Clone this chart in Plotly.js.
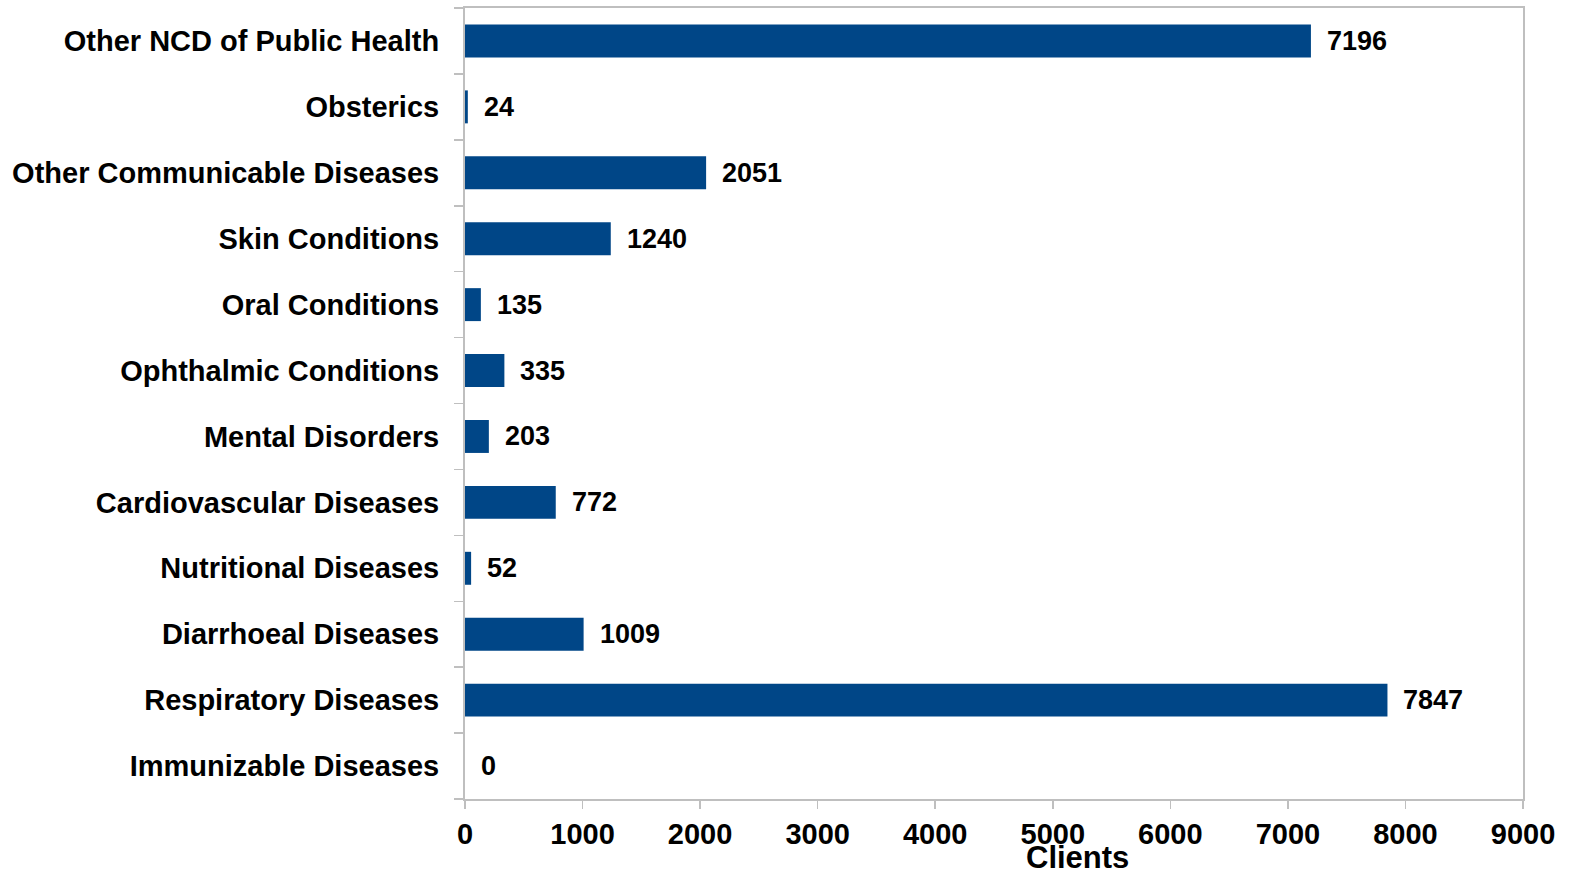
<!DOCTYPE html>
<html>
<head>
<meta charset="utf-8">
<script src="https://cdn.plot.ly/plotly-3.0.1.min.js"></script>
<style>html,body{margin:0;padding:0;background:#fff;}#chart{width:1569px;height:876px;}</style>
</head>
<body>
<div id="chart"></div>
<script>
// Categories listed bottom to top
const categories = [
  "Immunizable Diseases",
  "Respiratory Diseases",
  "Diarrhoeal Diseases",
  "Nutritional Diseases",
  "Cardiovascular Diseases",
  "Mental Disorders",
  "Ophthalmic Conditions",
  "Oral Conditions",
  "Skin Conditions",
  "Other Communicable Diseases",
  "Obsterics",
  "Other NCD of Public Health"
];
const clients = [0, 7847, 1009, 52, 772, 203, 335, 135, 1240, 2051, 24, 7196];
const xTicks = [0, 1000, 2000, 3000, 4000, 5000, 6000, 7000, 8000, 9000];

const fontFam = "Liberation Sans, Arial, sans-serif";
const gray = "#bfbfbf";

const trace = {
  type: "bar",
  orientation: "h",
  y: categories,
  x: clients,
  width: 0.5,
  marker: {color: "#004687"},
  hoverinfo: "x+y"
};

const annotations = categories.map((c, i) => ({
  x: clients[i], y: c, xref: "x", yref: "y",
  text: String(clients[i]),
  showarrow: false, xanchor: "left", yanchor: "middle",
  xshift: 14,
  font: {family: fontFam, size: 27, weight: "bold", color: "#000"}
}));

const layout = {
  width: 1569, height: 876,
  margin: {l: 465, r: 46, t: 8, b: 77},
  paper_bgcolor: "#fff", plot_bgcolor: "#fff",
  showlegend: false,
  font: {family: fontFam, size: 29, weight: "bold", color: "#000"},
  xaxis: {
    range: [0, 9000],
    tickvals: xTicks,
    ticktext: xTicks.map(String),
    showgrid: false, zeroline: false,
    showline: true, mirror: true, linecolor: gray, linewidth: 2,
    ticks: "outside", ticklen: 8, tickcolor: gray, tickwidth: 1.5,
    tickfont: {family: fontFam, size: 29, weight: "bold", color: "#000"},
    fixedrange: true
  },
  yaxis: {
    type: "category",
    range: [-0.5, 11.5],
    showgrid: false, zeroline: false,
    showline: true, mirror: true, linecolor: gray, linewidth: 2,
    ticks: "outside", ticklen: 9, tickcolor: gray, tickwidth: 1.5,
    tickson: "boundaries",
    ticklabelstandoff: 18,
    tickfont: {family: fontFam, size: 29, weight: "bold", color: "#000"},
    fixedrange: true
  },
  annotations: annotations.concat([{
    x: (1077 - 465) / 1058, y: 0, xref: "paper", yref: "paper",
    yanchor: "middle", yshift: -58,
    text: "Clients", showarrow: false,
    font: {family: fontFam, size: 31, weight: "bold", color: "#000"}
  }])
};

Plotly.newPlot("chart", [trace], layout, {displayModeBar: false, staticPlot: true});
</script>
</body>
</html>
